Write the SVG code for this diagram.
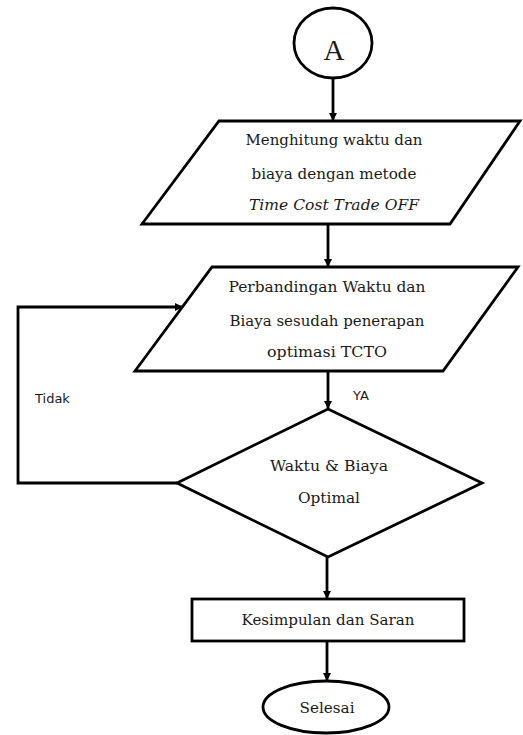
<svg xmlns="http://www.w3.org/2000/svg" width="523" height="735" viewBox="0 0 523 735">
<style>
.shape{fill:#fff;stroke:#000;stroke-width:2.8}
.con{fill:none;stroke:#000;stroke-width:2.8}
.t{font-family:"DejaVu Serif","Liberation Serif",serif;font-size:15px;fill:#1a1a1a;text-anchor:middle}
.lbl{font-family:"DejaVu Sans","Open Sans",sans-serif;font-size:13px;fill:#1a1a1a}
</style>
<defs>
<marker id="arr" markerWidth="8" markerHeight="8" refX="7" refY="4" orient="auto" markerUnits="userSpaceOnUse">
<path d="M0,0 L8,4 L0,8 Z" fill="#000"/>
</marker>
</defs>
<g id="connectors">
<line class="con" x1="333" y1="78" x2="333" y2="120" marker-end="url(#arr)"/>
<line class="con" x1="328" y1="224" x2="328" y2="266" marker-end="url(#arr)"/>
<line class="con" x1="328" y1="371" x2="328" y2="408" marker-end="url(#arr)"/>
<line class="con" x1="327" y1="557" x2="327" y2="598" marker-end="url(#arr)"/>
<line class="con" x1="327" y1="641" x2="327" y2="680" marker-end="url(#arr)"/>
<polyline class="con" points="177,483 18,483 18,307 182,307" marker-end="url(#arr)"/>
<text class="lbl" x="35" y="403">Tidak</text>
<text class="lbl" x="353" y="400">YA</text>
</g>
<g id="start">
<ellipse class="shape" cx="333" cy="43" rx="39" ry="35"/>
<text class="t" x="334" y="60" style="font-family:'Liberation Serif',serif;font-size:29px">A</text>
</g>
<g id="hitung">
<polygon class="shape" points="219,121 520,121 450,224 142,224"/>
<text class="t" x="334" y="145" textLength="177" lengthAdjust="spacingAndGlyphs">Menghitung waktu dan</text>
<text class="t" x="334" y="179" textLength="165" lengthAdjust="spacingAndGlyphs">biaya dengan metode</text>
<text class="t" x="334" y="210" textLength="170" lengthAdjust="spacingAndGlyphs" font-style="italic">Time Cost Trade OFF</text>
</g>
<g id="banding">
<polygon class="shape" points="212,267 518,267 443,371 135,371"/>
<text class="t" x="327" y="292" textLength="197" lengthAdjust="spacingAndGlyphs">Perbandingan Waktu dan</text>
<text class="t" x="327" y="326" textLength="195" lengthAdjust="spacingAndGlyphs">Biaya sesudah penerapan</text>
<text class="t" x="327" y="357" textLength="120" lengthAdjust="spacingAndGlyphs">optimasi TCTO</text>
</g>
<g id="optimal">
<polygon class="shape" points="328,409 482,483 328,557 177,483"/>
<text class="t" x="329" y="471" textLength="118" lengthAdjust="spacingAndGlyphs">Waktu &amp; Biaya</text>
<text class="t" x="329" y="503" textLength="62" lengthAdjust="spacingAndGlyphs">Optimal</text>
</g>
<g id="kesimpulan">
<rect class="shape" x="192" y="599" width="272" height="42"/>
<text class="t" x="328" y="625" textLength="173" lengthAdjust="spacingAndGlyphs">Kesimpulan dan Saran</text>
</g>
<g id="selesai">
<ellipse class="shape" cx="326" cy="707" rx="63" ry="26"/>
<text class="t" x="327" y="713" textLength="55" lengthAdjust="spacingAndGlyphs">Selesai</text>
</g>
</svg>
